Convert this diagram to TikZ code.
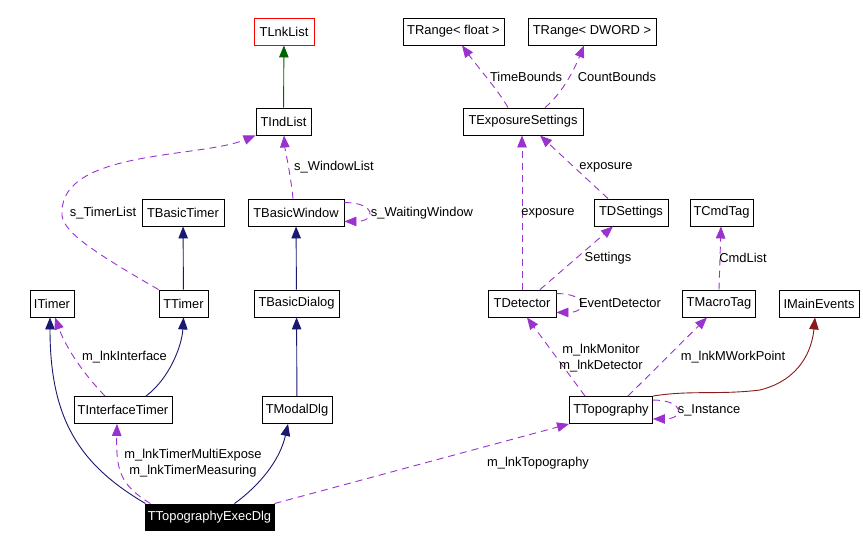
\documentclass[tikz,border=0pt]{standalone}
\usepackage{fontspec}
\setmainfont{Liberation Sans}
\usetikzlibrary{arrows.meta}
\definecolor{purp}{HTML}{9A32CD}
\definecolor{navyc}{HTML}{191970}
\definecolor{greenc}{HTML}{006400}
\definecolor{redc}{HTML}{8B1A1A}
\begin{document}
\begin{tikzpicture}[x=1pt,y=-1pt,
  font=\fontsize{12.9}{16}\selectfont,
  cls/.style={draw, line width=0.9pt, minimum height=27pt, inner sep=0pt, fill=white},
  lbl/.style={inner sep=0pt, align=center},
  tip/.style={-{Triangle[length=12pt,width=9.5pt]}},
  inh/.style={navyc, line width=0.9pt, tip},
  gen/.style={greenc, line width=0.9pt, tip},
  impl/.style={redc, line width=0.9pt, tip},
  use/.style={purp, line width=0.9pt, dash pattern=on 7pt off 5pt, tip}]
\useasboundingbox[fill=white] (0,0) rectangle (863,547);
% nodes
\node[cls, draw=red, minimum width=60pt] (tlnk) at (284,31.5) {TLnkList};
\node[cls, minimum width=55pt] (tind) at (283.5,121.5) {TIndList};
\node[cls, minimum width=101pt] (trf) at (453.5,31.5) {TRange< float >};
\node[cls, minimum width=128pt] (trd) at (592,31.5) {TRange< DWORD >};
\node[cls, minimum width=120pt] (texp) at (523,121.5) {TExposureSettings};
\node[cls, minimum width=82pt] (tbt) at (183,212.5) {TBasicTimer};
\node[cls, minimum width=96pt] (tbw) at (296,212.5) {TBasicWindow};
\node[cls, minimum width=74pt] (tds) at (631,212.5) {TDSettings};
\node[cls, minimum width=63pt] (tcmd) at (721.5,212.5) {TCmdTag};
\node[cls, minimum width=44pt] (itimer) at (52,303.5) {ITimer};
\node[cls, minimum width=49pt] (ttimer) at (183.5,303.5) {TTimer};
\node[cls, minimum width=85pt] (tbd) at (296.5,303.5) {TBasicDialog};
\node[cls, minimum width=68pt] (tdet) at (522,303.5) {TDetector};
\node[cls, minimum width=73pt] (tmac) at (719,303.5) {TMacroTag};
\node[cls, minimum width=80pt] (imain) at (819,303.5) {IMainEvents};
\node[cls, minimum width=98pt] (tit) at (123,410) {TInterfaceTimer};
\node[cls, minimum width=70pt] (tmd) at (297,410) {TModalDlg};
\node[cls, minimum width=83pt] (ttopo) at (611,410) {TTopography};
\node[cls, fill=black, text=white, minimum width=129pt, minimum height=26pt] (exec) at (209.5,517) {TTopographyExecDlg};
% inheritance
\draw[gen] (tind) -- (tlnk);
\draw[inh] (ttimer) -- (tbt);
\draw[inh] (tbd) -- (tbw);
\draw[inh] (tmd) -- (tbd);
\draw[inh] ([xshift=23pt]tit.north) .. controls (170,378) and (182,345) .. (ttimer.south);
\draw[inh] ([xshift=-64pt]exec.north) .. controls (80,465) and (50,420) .. ([xshift=-2pt]itimer.south);
\draw[inh] ([xshift=25pt]exec.north) .. controls (260,485) and (280,460) .. ([xshift=-9pt]tmd.south);
\draw[impl] (ttopo.north east) .. controls (690,390) and (720,395) .. (760,390) .. controls (800,380) and (812,350) .. ([xshift=-4pt]imain.south);
% usage
\draw[use] (ttimer.north west) .. controls (90,250) and (60,230) .. (62,212) .. controls (62,150) and (200,158) .. (tind.south west);
\draw[use] ([xshift=-3pt]tbw.north) .. controls (290,170) and (285,150) .. ([xshift=0.5pt]tind.south);
\draw[use] ([yshift=-4pt]tbw.north east) .. controls +(32,0) and +(32,0) .. ([yshift=5pt]tbw.south east);
\draw[use] ([xshift=-15pt]texp.north) .. controls (498,90) and (480,70) .. ([xshift=8.5pt]trf.south);
\draw[use] ([xshift=22pt]texp.north) .. controls (560,95) and (572,75) .. ([xshift=-8pt]trd.south);
\draw[use] (tdet.north) -- ([xshift=-1pt]texp.south);
\draw[use] ([xshift=-23pt]tds.north) -- ([xshift=17pt]texp.south);
\draw[use] ([xshift=18pt]tdet.north) -- ([xshift=-18pt]tds.south);
\draw[use] (tmac.north) -- ([xshift=-0.5pt]tcmd.south);
\draw[use] ([yshift=-4pt]tdet.north east) .. controls +(32,0) and +(32,0) .. ([yshift=5pt]tdet.south east);
\draw[use] ([xshift=-26pt]ttopo.north) -- ([xshift=5pt]tdet.south);
\draw[use] ([xshift=17pt]ttopo.north) -- ([xshift=-12pt]tmac.south);
\draw[use] ([yshift=-4pt]ttopo.north east) .. controls +(32,0) and +(32,0) .. ([yshift=5pt]ttopo.south east);
\draw[use] ([xshift=65pt]exec.north) -- (ttopo.south west);
\draw[use] ([xshift=-59pt]exec.north) .. controls (120,485) and (116,470) .. ([xshift=-6pt]tit.south);
\draw[use] ([xshift=-18pt]tit.north) .. controls (80,370) and (65,345) .. ([xshift=3pt]itimer.south);
% labels
\node[lbl] (l1) at (103,213) {s\_TimerList};
\node[lbl] (l2) at (334,167) {s\_WindowList};
\node[lbl] (l3) at (422,213) {s\_WaitingWindow};
\node[lbl] (l4) at (526,77) {TimeBounds};
\node[lbl] (l5) at (617,77) {CountBounds};
\node[lbl] (l6) at (548,213) {exposure};
\node[lbl] (l7) at (606,167) {exposure};
\node[lbl] (l8) at (608,258) {Settings};
\node[lbl] (l9) at (743,258) {CmdList};
\node[lbl] (l10) at (620,303.5) {EventDetector};
\node[lbl] (l11) at (601,358) {m\_lnkMonitor\\m\_lnkDetector};
\node[lbl] (l12) at (733,357) {m\_lnkMWorkPoint};
\node[lbl] (l13) at (709,410) {s\_Instance};
\node[lbl] (l14) at (538,463) {m\_lnkTopography};
\node[lbl] (l15) at (124.5,357.5) {m\_lnkInterface};
\node[lbl] (l16) at (193,463) {m\_lnkTimerMultiExpose\\m\_lnkTimerMeasuring};
\end{tikzpicture}
\end{document}
